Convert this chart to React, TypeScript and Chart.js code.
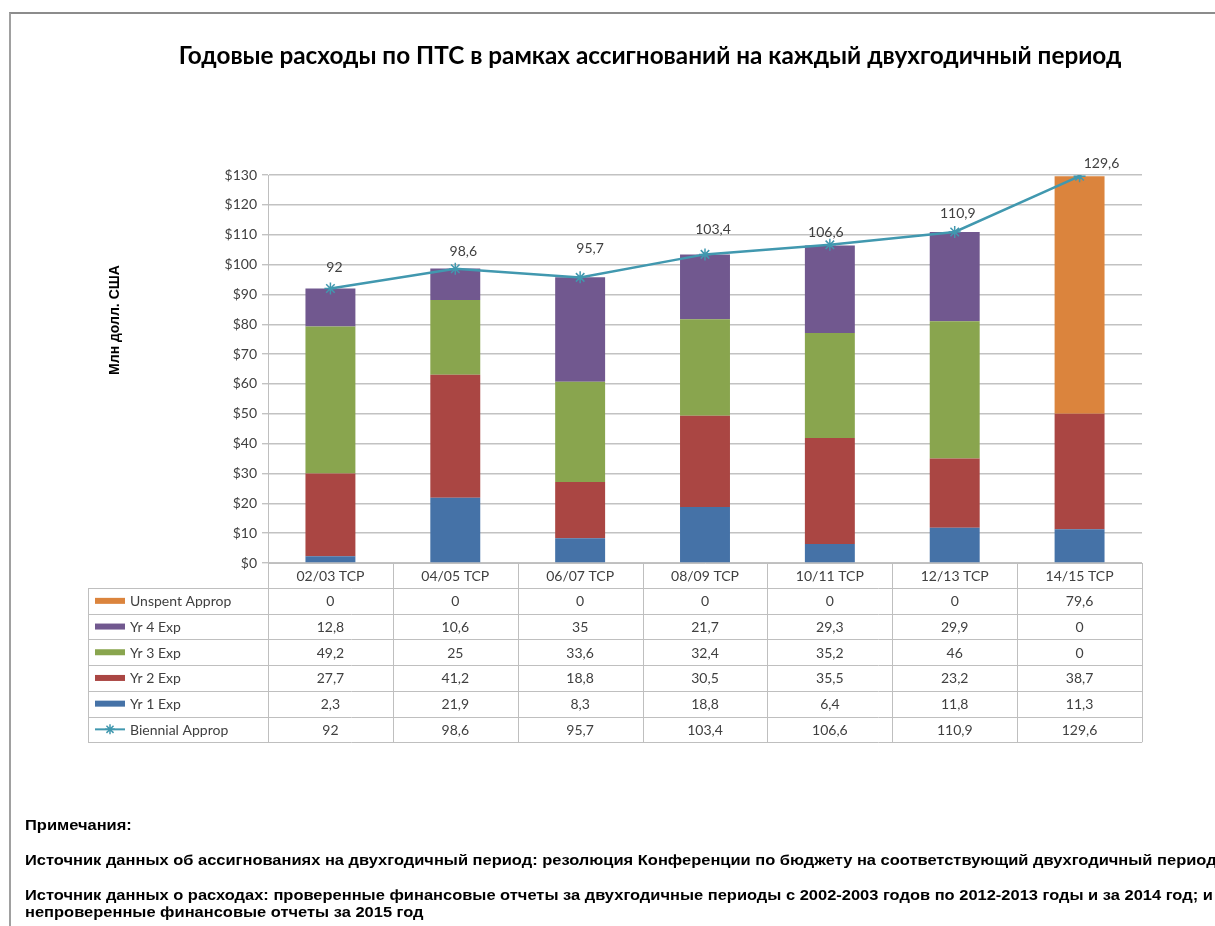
import React, { useEffect, useRef } from "react";
import { Chart, registerables } from "chart.js";

Chart.register(...registerables);

// ---------- data ----------
const categories = ["02/03 TCP", "04/05 TCP", "06/07 TCP", "08/09 TCP", "10/11 TCP", "12/13 TCP", "14/15 TCP"];
const yr1Exp = [2.3, 21.9, 8.3, 18.8, 6.4, 11.8, 11.3];
const yr2Exp = [27.7, 41.2, 18.8, 30.5, 35.5, 23.2, 38.7];
const yr3Exp = [49.2, 25, 33.6, 32.4, 35.2, 46, 0];
const yr4Exp = [12.8, 10.6, 35, 21.7, 29.3, 29.9, 0];
const unspentApprop = [0, 0, 0, 0, 0, 0, 79.6];
const biennialApprop = [92, 98.6, 95.7, 103.4, 106.6, 110.9, 129.6];
const yMin = 0;
const yMax = 130;
const yStep = 10;

const titleText = "Годовые расходы по ПТС в рамках ассигнований на каждый двухгодичный период";
const yAxisTitle = "Млн долл. США";
const notesHeading = "Примечания:";
const noteLines = [
  "Источник данных об ассигнованиях на двухгодичный период: резолюция Конференции по бюджету на соответствующий двухгодичный период",
  "Источник данных о расходах: проверенные финансовые отчеты за двухгодичные периоды с 2002-2003 годов по  2012-2013 годы и за 2014 год; и",
  "непроверенные финансовые отчеты за 2015 год",
];

// ---------- styles ----------
const COLORS = {
  yr1: "#4572A7",
  yr2: "#AA4643",
  yr3: "#89A54E",
  yr4: "#71588F",
  unspent: "#DB843D",
  line: "#4198AF",
  text: "#404040",
  grid: "#c2c2c2",
};
// label nudges (dx, dy) for the line value labels
const labelNudges: [number, number][] = [
  [4, -21], [8, -17], [10, -29], [8, -25], [-4, -12], [3, -19], [22, -13],
];

const fmt = (v: number) => String(v).replace(".", ",");

const tableRows = [
  { label: "Unspent Approp", data: unspentApprop, color: COLORS.unspent, kind: "bar" },
  { label: "Yr 4 Exp", data: yr4Exp, color: COLORS.yr4, kind: "bar" },
  { label: "Yr 3 Exp", data: yr3Exp, color: COLORS.yr3, kind: "bar" },
  { label: "Yr 2 Exp", data: yr2Exp, color: COLORS.yr2, kind: "bar" },
  { label: "Yr 1 Exp", data: yr1Exp, color: COLORS.yr1, kind: "bar" },
  { label: "Biennial Approp", data: biennialApprop, color: COLORS.line, kind: "line" },
];

const FONT = "Lato";
const HEADER_H = 25;
const ROW_H = 25.7;
const TABLE_LEFT = 88;

function drawStar(ctx: CanvasRenderingContext2D, x: number, y: number, r: number) {
  ctx.beginPath();
  for (let k = 0; k < 4; k++) {
    const a = (Math.PI / 4) * k;
    ctx.moveTo(x - r * Math.cos(a), y - r * Math.sin(a));
    ctx.lineTo(x + r * Math.cos(a), y + r * Math.sin(a));
  }
  ctx.stroke();
}

const yTitlePlugin = {
  id: "yTitle",
  afterDraw(chart: any) {
    const { ctx } = chart;
    ctx.save();
    ctx.translate(115, 320);
    ctx.rotate(-Math.PI / 2);
    ctx.fillStyle = "#000";
    ctx.font = "bold 14px 'Liberation Sans'";
    ctx.textAlign = "center";
    ctx.textBaseline = "middle";
    ctx.fillText(yAxisTitle, 0, 0);
    ctx.restore();
  },
};

const tablePlugin = {
  id: "dataTable",
  afterDraw(chart: any) {
    const { ctx, chartArea } = chart;
    const x = chart.scales.x;
    const left = chartArea.left;
    const right = chartArea.right;
    const n = categories.length;
    const colW = (right - left) / n;
    const headerTop = chartArea.bottom;
    const headerBottom = headerTop + HEADER_H;
    const tableBottom = headerBottom + ROW_H * tableRows.length;
    const crisp = (v: number) => Math.round(v) + 0.5;

    ctx.save();
    ctx.strokeStyle = "#bfbfbf";
    ctx.lineWidth = 1;
    ctx.beginPath();
    for (let i = 0; i <= n; i++) {
      const xx = crisp(left + i * colW);
      ctx.moveTo(xx, headerTop);
      ctx.lineTo(xx, tableBottom);
    }
    ctx.moveTo(crisp(TABLE_LEFT), headerBottom);
    ctx.lineTo(crisp(TABLE_LEFT), tableBottom);
    for (let r = 0; r <= tableRows.length; r++) {
      const yy = crisp(headerBottom + r * ROW_H);
      ctx.moveTo(TABLE_LEFT, yy);
      ctx.lineTo(right, yy);
    }
    ctx.stroke();

    ctx.fillStyle = COLORS.text;
    ctx.font = `14px ${FONT}`;
    ctx.textAlign = "center";
    ctx.textBaseline = "middle";
    categories.forEach((c, i) => {
      ctx.fillText(c, x.getPixelForValue(i), headerTop + HEADER_H / 2 + 1);
    });

    tableRows.forEach((row, r) => {
      const cy = headerBottom + r * ROW_H + ROW_H / 2 + 1;
      if (row.kind === "bar") {
        ctx.fillStyle = row.color;
        ctx.fillRect(TABLE_LEFT + 7, cy - 4, 30, 6);
      } else {
        ctx.strokeStyle = row.color;
        ctx.lineWidth = 2;
        ctx.beginPath();
        ctx.moveTo(TABLE_LEFT + 7, cy - 1);
        ctx.lineTo(TABLE_LEFT + 37, cy - 1);
        ctx.stroke();
        ctx.lineWidth = 1.5;
        drawStar(ctx, TABLE_LEFT + 22, cy - 1, 5);
      }
      ctx.fillStyle = COLORS.text;
      ctx.textAlign = "left";
      ctx.fillText(row.label, TABLE_LEFT + 42, cy);
      ctx.textAlign = "center";
      row.data.forEach((v, i) => {
        ctx.fillText(fmt(v), x.getPixelForValue(i), cy);
      });
    });
    ctx.restore();
  },
};

const lineLabelPlugin = {
  id: "lineLabels",
  afterDatasetsDraw(chart: any) {
    const idx = chart.data.datasets.findIndex((d: any) => d.type === "line");
    const meta = chart.getDatasetMeta(idx);
    const { ctx } = chart;
    ctx.save();
    ctx.fillStyle = COLORS.text;
    ctx.font = `14px ${FONT}`;
    ctx.textAlign = "center";
    ctx.textBaseline = "middle";
    meta.data.forEach((pt: any, i: number) => {
      const [dx, dy] = labelNudges[i] || [0, -20];
      ctx.fillText(fmt(biennialApprop[i]), pt.x + dx, pt.y + dy);
    });
    ctx.restore();
  },
};

export default function App() {
  const canvasRef = useRef<HTMLCanvasElement | null>(null);

  useEffect(() => {
    if (!canvasRef.current) return;
    const barDs = (label: string, data: number[], color: string) => ({
      type: "bar" as const,
      label,
      data,
      backgroundColor: color,
      borderWidth: 0,
      barPercentage: 0.4,
      categoryPercentage: 1,
      stack: "exp",
      order: 2,
    });
    const chart = new Chart(canvasRef.current, {
      type: "bar",
      data: {
        labels: categories,
        datasets: [
          barDs("Yr 1 Exp", yr1Exp, COLORS.yr1),
          barDs("Yr 2 Exp", yr2Exp, COLORS.yr2),
          barDs("Yr 3 Exp", yr3Exp, COLORS.yr3),
          barDs("Yr 4 Exp", yr4Exp, COLORS.yr4),
          barDs("Unspent Approp", unspentApprop, COLORS.unspent),
          {
            type: "line" as const,
            label: "Biennial Approp",
            data: biennialApprop,
            borderColor: COLORS.line,
            backgroundColor: COLORS.line,
            borderWidth: 2.5,
            pointStyle: "star",
            pointRadius: 6,
            pointBorderColor: COLORS.line,
            pointBorderWidth: 1.5,
            tension: 0,
            stack: "line",
            order: 0,
          } as any,
        ],
      },
      options: {
        responsive: false,
        animation: false,
        devicePixelRatio: 1,
        layout: { padding: { left: 107, right: 73, top: 175, bottom: 338 } },
        plugins: {
          legend: { display: false },
          title: { display: false },
          tooltip: { enabled: false },
        },
        scales: {
          x: {
            stacked: true,
            ticks: { display: false },
            grid: { display: false },
            border: { display: true, color: "#bfbfbf" },
            afterFit: (s: any) => {
              s.height = HEADER_H;
            },
          },
          y: {
            stacked: true,
            min: yMin,
            max: yMax,
            ticks: {
              stepSize: yStep,
              callback: (v: any) => "$" + v,
              color: COLORS.text,
              font: { family: FONT, size: 14 },
              padding: 5,
            },
            grid: { color: COLORS.grid, tickLength: 6, lineWidth: 1.4 },
            border: { color: "#bfbfbf" },
            title: { display: false },
            afterFit: (s: any) => {
              s.width = 161;
            },
          },
        },
      },
      plugins: [tablePlugin, lineLabelPlugin, yTitlePlugin],
    });
    return () => chart.destroy();
  }, []);

  return (
    <div
      style={{
        position: "absolute",
        left: 0,
        top: 0,
        width: 1215,
        height: 926,
        overflow: "hidden",
        background: "#fff",
      }}
    >
      <div
        style={{
          position: "absolute",
          left: 9,
          top: 12,
          right: 0,
          bottom: 0,
          borderTop: "2px solid #8c8c8c",
          borderLeft: "2px solid #a0a0a0",
        }}
      />
      <canvas ref={canvasRef} width={1215} height={926} style={{ position: "absolute", left: 0, top: 0 }} />
      <div
        style={{
          position: "absolute",
          left: 0,
          width: 1300,
          top: 40,
          textAlign: "center",
          fontFamily: FONT,
          fontWeight: 700,
          fontSize: 24.3,
          lineHeight: "30px",
          color: "#000",
          whiteSpace: "nowrap",
        }}
      >
        {titleText}
      </div>
      <div
        style={{
          position: "absolute",
          left: 25,
          top: 817,
          fontFamily: "Liberation Sans",
          fontWeight: 700,
          fontSize: 14,
          lineHeight: "17px",
          color: "#000",
          whiteSpace: "nowrap",
          transform: "scaleX(1.176)",
          transformOrigin: "left top",
        }}
      >
        <div>{notesHeading}</div>
        <div style={{ marginTop: 18 }}>{noteLines[0]}</div>
        <div style={{ marginTop: 18 }}>{noteLines[1]}</div>
        <div>{noteLines[2]}</div>
      </div>
    </div>
  );
}
